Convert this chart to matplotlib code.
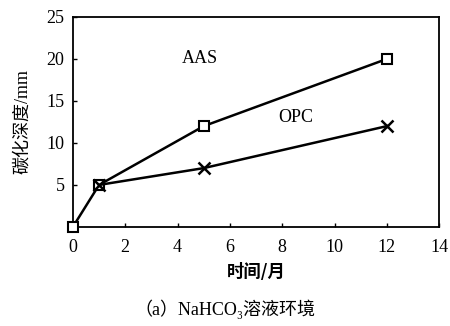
import matplotlib
matplotlib.use('Agg')
import matplotlib.pyplot as plt

# carbonation depth vs time, NaHCO3 solution
months = [0, 1, 5, 12]
aas_depth = [0, 5, 12, 20]
opc_depth = [0, 5, 7, 12]

xticks = [0, 2, 4, 6, 8, 10, 12, 14]
yticks = [5, 10, 15, 20, 25]

cjk = ['Noto Sans CJK SC', 'DejaVu Sans']
serif = 'Liberation Serif'
mixed = ['Liberation Serif', 'Noto Sans CJK SC', 'DejaVu Serif']

fig = plt.figure(figsize=(4.5, 3.26), dpi=100)
ax = fig.add_axes([0.162, 0.304, 0.814, 0.644])

ax.plot(months, aas_depth, color='black', lw=1.8, marker='s', ms=7,
        mfc='white', mec='black', mew=1.5, clip_on=False, zorder=3)
ax.plot(months[1:], opc_depth[1:], color='black', lw=1.8, marker='x', ms=8,
        mew=1.8, clip_on=False, zorder=3)

ax.text(4.85, 20.1, 'AAS', fontsize=13, fontfamily=serif, ha='center', va='center')
ax.text(8.5, 13.0, 'OPC', fontsize=13, fontfamily=serif, ha='center', va='center')

ax.set_xlim(0, 14)
ax.set_ylim(0, 25)
ax.set_xticks(xticks)
ax.set_yticks(yticks)
ax.tick_params(direction='in', length=3, width=1, labelsize=13)
ax.tick_params(axis='x', pad=9)
ax.tick_params(axis='y', pad=6)
for lab in ax.get_xticklabels() + ax.get_yticklabels():
    lab.set_fontfamily(serif)
for s in ax.spines.values():
    s.set_linewidth(1.3)

ax.set_xlabel('时间/月', fontsize=12.5, family=cjk, fontweight='bold', labelpad=5)
ax.set_ylabel('碳化深度/mm', fontsize=13, family=mixed, fontweight='medium', labelpad=11)

# caption: serif for latin text, CJK font picks up the rest
fig.text(0.5, 0.05, '（a）NaHCO₃溶液环境', fontsize=13, family=mixed,
         ha='center', va='center')

fig.savefig('out.png', dpi=100)
